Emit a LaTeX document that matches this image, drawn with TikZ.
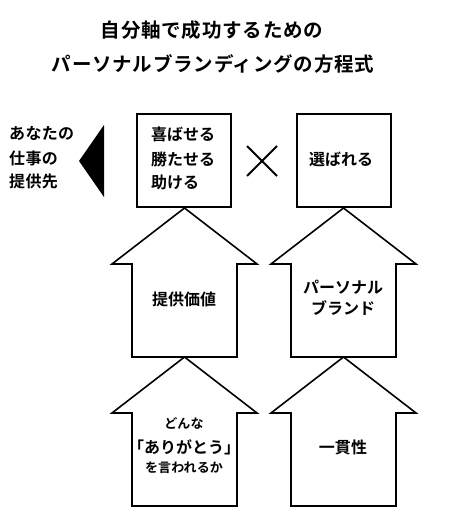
\documentclass[tikz,border=0pt]{standalone}
\usepackage{fontspec}
\setmainfont{Noto Sans CJK JP}
\newfontfamily\jpb{Noto Sans CJK JP}[BoldFont={* Bold}]
\begin{document}
\begin{tikzpicture}[x=1pt,y=-1pt,
  box/.style={draw,line width=2pt,minimum width=94pt,minimum height=93pt,inner sep=0pt},
  arr/.style={draw,line width=1.6pt,line join=miter},
  lbl/.style={font=\jpb\bfseries\fontsize{16}{24}\selectfont,align=center,inner sep=0pt},
  sml/.style={font=\jpb\bfseries\fontsize{13}{14}\selectfont,inner sep=0pt},
  ttl/.style={font=\jpb\bfseries\fontsize{19.5}{24}\selectfont,inner sep=0pt}]
\useasboundingbox (0,0) rectangle (450,526);
% titles
\node[ttl] (t1) at (212,30) {\addfontfeature{LetterSpace=4}自分軸で成功するための};
\node[ttl] (t2) at (213,64) {\addfontfeature{LetterSpace=4}パーソナルブランディングの方程式};
% boxes
\node[box] (b1) at (184,160.5) {};
\node[box] (b2) at (344,160.5) {};
\node[lbl,align=left,anchor=west] (b1t) at (151,158) {喜ばせる\\[1pt]勝たせる\\[-1pt]助ける};
\node[lbl] (b2t) at (341,159) {選ばれる};
% cross
\coordinate (x1) at (247,146); \coordinate (x2) at (277,176);
\coordinate (x3) at (277,146); \coordinate (x4) at (247,176);
\draw[line width=1.8pt] (x1) -- (x2) (x3) -- (x4);
% triangle
\coordinate (p1) at (79,161); \coordinate (p2) at (104,125); \coordinate (p3) at (104,197);
\fill (p1) -- (p2) -- (p3) -- cycle;
\node[lbl,align=left,anchor=west] (lt) at (9,158) {\addfontfeature{LetterSpace=2}あなたの\\[1pt]\addfontfeature{LetterSpace=2}仕事の\\[-1pt]\addfontfeature{LetterSpace=2}提供先};
% arrows
\newcommand\housearrow[4]{%
  \draw[arr] (#1,#2) -- (#1+72.5,#3) -- (#1+52.5,#3) -- (#1+52.5,#4)
    -- (#1-52.5,#4) -- (#1-52.5,#3) -- (#1-72.5,#3) -- cycle;}
\housearrow{184.5}{208}{264}{357}
\housearrow{343.5}{208}{264}{357}
\housearrow{184.5}{357}{413}{506}
\housearrow{343.5}{357}{413}{506}
\node[lbl] (a1) at (184,299) {提供価値};
\node[lbl] (a2) at (343,298) {パーソナル\\[-3pt]ブランド};
\node[sml] (a3a) at (184,423) {\addfontfeature{LetterSpace=1}どんな};
\node[lbl] (a3b) at (184,447) {「ありがとう」};
\node[sml] (a3c) at (184,468) {\addfontfeature{LetterSpace=1}を言われるか};
\node[lbl] (a4) at (343,447) {\addfontfeature{LetterSpace=1}一貫性};
\end{tikzpicture}
\end{document}
